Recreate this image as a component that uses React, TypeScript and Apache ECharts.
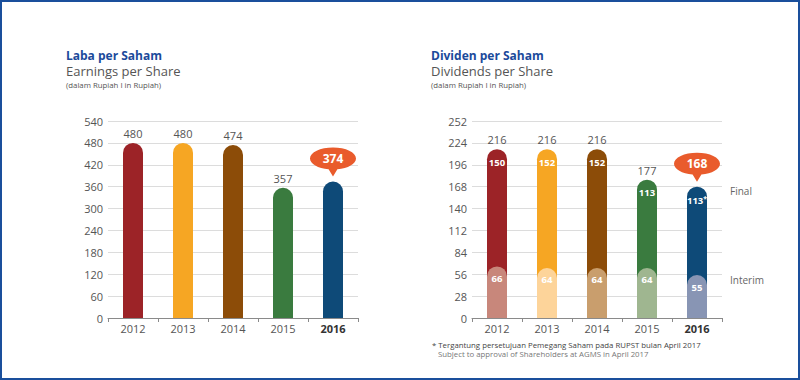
import React, { useEffect, useRef } from "react";
import * as echarts from "echarts";

const years = ["2012", "2013", "2014", "2015", "2016"];
const epsValues = [480, 480, 474, 357, 374];
const dpsTotal = [216, 216, 216, 177, 168];
const dpsFinal = [150, 152, 152, 113, 113];
const dpsInterim = [66, 64, 64, 64, 55];
const barColors = ["#9c2327", "#f6a623", "#8c4c08", "#3a7b3f", "#0e4a78"];
const interimColors = ["#c8877b", "#fdd49a", "#c99e6d", "#9fb690", "#8895b4"];
const bubbleColor = "#e95b2c";
const titleBlue = "#1b4a9b";

const FONT = "Open Sans";
const bubblePath =
  "path://M23,0C35.7,0,46,4.9,46,11C46,16.4,38,20.9,27.4,21.8L23,29L18.6,21.8C8,20.9,0,16.4,0,11C0,4.9,10.3,0,23,0Z";

function makeXAxis(gridIndex: number) {
  return {
    type: "category",
    gridIndex,
    data: years.map((y, i) =>
      i === years.length - 1
        ? { value: y, textStyle: { fontWeight: "bold", color: "#333" } }
        : y
    ),
    axisLine: { lineStyle: { color: "#8a8a8a", width: 1 } },
    axisTick: { show: true, length: 4, lineStyle: { color: "#8a8a8a" } },
    axisLabel: { color: "#555", fontSize: 11, margin: 5, fontFamily: FONT },
  };
}

function makeYAxis(gridIndex: number, max: number, interval: number) {
  return {
    type: "value",
    gridIndex,
    min: 0,
    max,
    interval,
    axisLine: { show: false },
    axisTick: { show: false },
    splitLine: { lineStyle: { color: "#dcdcdc", width: 1 } },
    axisLabel: { color: "#555", fontSize: 11, margin: 5, fontFamily: FONT },
  };
}

function bubble(year: string, value: number) {
  return {
    symbol: bubblePath,
    symbolSize: [46, 29],
    symbolKeepAspect: false,
    symbolOffset: [0, -19.5],
    itemStyle: { color: bubbleColor },
    label: {
      show: true,
      position: "inside",
      offset: [0, -3.5],
      color: "#fff",
      fontWeight: "bold",
      fontSize: 12,
      fontFamily: FONT,
      formatter: "{c}",
    },
    data: [{ coord: [year, value], value }],
  };
}

function titleText(x: number, y: number, text: string, fill: string, font: string) {
  return {
    type: "text",
    x,
    y,
    style: { text, fill, font, textVerticalAlign: "middle" },
  };
}

export default function App() {
  const ref = useRef<HTMLDivElement>(null);
  useEffect(() => {
    if (!ref.current) return;
    const chart = echarts.init(ref.current, undefined, { renderer: "svg" });
    const last = years.length - 1;
    const option = {
      animation: false,
      textStyle: { fontFamily: FONT },
      grid: [
        { left: 108, top: 121, width: 250, height: 197 },
        { left: 472, top: 121, width: 250, height: 197 },
      ],
      xAxis: [makeXAxis(0), makeXAxis(1)],
      yAxis: [makeYAxis(0, 540, 60), makeYAxis(1, 252, 28)],
      series: [
        {
          type: "bar",
          xAxisIndex: 0,
          yAxisIndex: 0,
          barWidth: 20,
          data: epsValues.map((v, i) => ({
            value: v,
            itemStyle: { color: barColors[i] },
            label: i === last ? { show: false } : undefined,
          })),
          itemStyle: { borderRadius: [10, 10, 0, 0] },
          label: {
            show: true,
            position: "top",
            distance: 4,
            color: "#555",
            fontSize: 11,
            fontFamily: FONT,
          },
          markPoint: bubble(years[last], epsValues[last]),
        },
        {
          type: "bar",
          name: "total",
          xAxisIndex: 1,
          yAxisIndex: 1,
          barWidth: 20,
          barGap: "-100%",
          data: dpsTotal.map((v, i) => ({
            value: v,
            label: i === last ? { show: false } : undefined,
          })),
          itemStyle: { color: "rgba(0,0,0,0)" },
          label: {
            show: true,
            position: "top",
            distance: 4,
            color: "#555",
            fontSize: 11,
            fontFamily: FONT,
          },
        },
        {
          type: "bar",
          name: "Final",
          xAxisIndex: 1,
          yAxisIndex: 1,
          barWidth: 20,
          barGap: "-100%",
          data: dpsTotal.map((v, i) => ({
            value: v,
            itemStyle: { color: barColors[i] },
          })),
          itemStyle: { borderRadius: [10, 10, 0, 0] },
          label: {
            show: true,
            position: "insideTop",
            distance: 8,
            color: "#fff",
            fontWeight: "bold",
            fontSize: 9.5,
            fontFamily: FONT,
            formatter: (p: any) =>
              p.dataIndex === last
                ? `${dpsFinal[p.dataIndex]}{s|*}`
                : `${dpsFinal[p.dataIndex]}`,
            rich: {
              s: {
                color: "#fff",
                fontSize: 7,
                fontWeight: "bold",
                verticalAlign: "top",
                padding: [0, 0, 4, 0],
              },
            },
          },
          markPoint: bubble(years[last], dpsTotal[last]),
        },
        {
          type: "bar",
          name: "Interim",
          xAxisIndex: 1,
          yAxisIndex: 1,
          barWidth: 20,
          barGap: "-100%",
          data: dpsInterim.map((v, i) => ({
            value: v,
            itemStyle: { color: interimColors[i] },
          })),
          itemStyle: { borderRadius: [10, 10, 0, 0] },
          label: {
            show: true,
            position: "insideTop",
            distance: 7,
            color: "#fff",
            fontWeight: "bold",
            fontSize: 9.5,
            fontFamily: FONT,
          },
        },
      ],
      graphic: [
        {
          type: "rect",
          shape: { x: 1, y: 1, width: 798, height: 378 },
          style: { fill: "none", stroke: "#1a4f9c", lineWidth: 2 },
          silent: true,
        },
        titleText(66, 55, "Laba per Saham", titleBlue, `bold 12px "${FONT}"`),
        titleText(66, 71, "Earnings per Share", "#555", `13px "${FONT}"`),
        titleText(66, 85, "(dalam Rupiah I in Rupiah)", "#555", `7.8px "${FONT}"`),
        titleText(431, 55, "Dividen per Saham", titleBlue, `bold 12px "${FONT}"`),
        titleText(431, 71, "Dividends per Share", "#555", `13px "${FONT}"`),
        titleText(431, 85, "(dalam Rupiah I in Rupiah)", "#555", `7.8px "${FONT}"`),
        titleText(730, 191, "Final", "#666", `10px "${FONT}"`),
        titleText(730, 280, "Interim", "#666", `10px "${FONT}"`),
        titleText(
          432,
          345,
          "* Tergantung persetujuan Pemegang Saham pada RUPST bulan April 2017",
          "#444",
          `7.8px "${FONT}"`
        ),
        titleText(
          438,
          354,
          "Subject to approval of Shareholders at AGMS in April 2017",
          "#777",
          `7.8px "${FONT}"`
        ),
      ],
    };
    chart.setOption(option as any);
    return () => chart.dispose();
  }, []);
  return (
    <div
      ref={ref}
      style={{ position: "fixed", left: 0, top: 0, width: 800, height: 380, background: "#fff" }}
    />
  );
}
